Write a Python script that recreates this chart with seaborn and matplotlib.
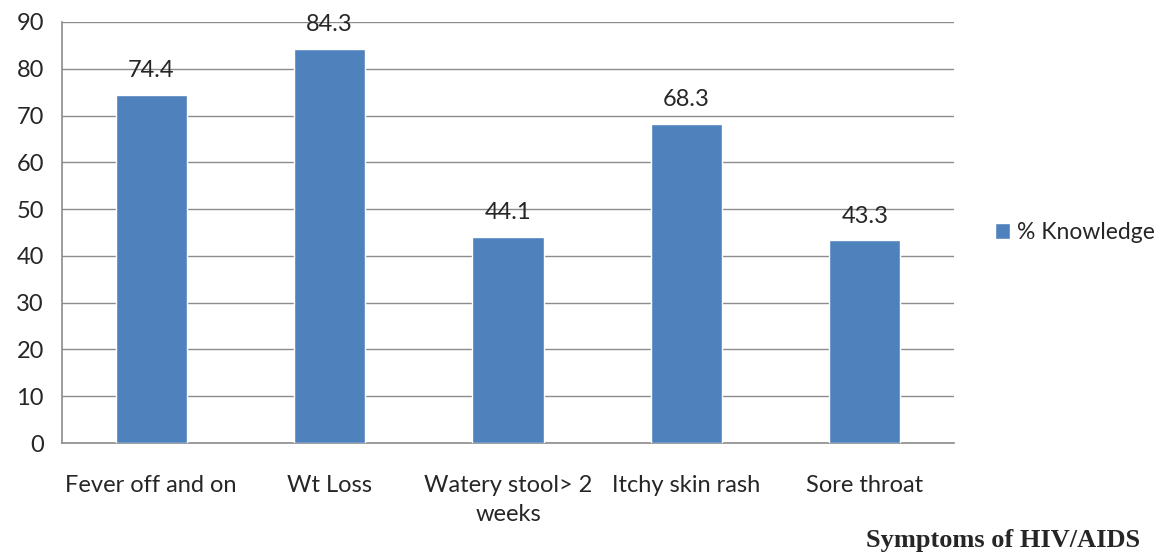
import pandas as pd
import matplotlib.pyplot as plt
import seaborn as sns

# chart data
symptoms = ["Fever off and on", "Wt Loss", "Watery stool> 2\nweeks", "Itchy skin rash", "Sore throat"]
knowledge = [74.4, 84.3, 44.1, 68.3, 43.3]
series_name = "% Knowledge"

df = pd.DataFrame({"Symptom": symptoms, "Value": knowledge})

sns.set_style("white")
plt.rcParams["font.family"] = ["Lato", "DejaVu Sans"]

fig = plt.figure(figsize=(11.66, 5.57), dpi=100)
ax = fig.add_axes([62 / 1166, 1 - 443 / 557, (954 - 62) / 1166, (443 - 22) / 557])

bar_color = "#4F81BD"
sns.barplot(data=df, x="Symptom", y="Value", color=bar_color, width=0.4,
            saturation=1, ax=ax, label=series_name, zorder=3)

ax.set_ylim(0, 90)
ax.set_xlim(-0.5, len(symptoms) - 0.5)
ax.set_yticks(range(0, 91, 10))
ax.yaxis.grid(True, color="#8c8c8c", linewidth=1, zorder=0)
ax.set_axisbelow(True)

for s in ["top", "right"]:
    ax.spines[s].set_visible(False)
for s in ["left", "bottom"]:
    ax.spines[s].set_color("#8c8c8c")
    ax.spines[s].set_linewidth(1.2)

# category labels centered, tick marks at boundaries
ax.set_xticks(range(len(symptoms)))
ax.set_xticklabels(symptoms, fontsize=17, linespacing=1.45)
ax.tick_params(axis="x", which="major", length=0, pad=23)
ax.set_xticks([i - 0.5 for i in range(len(symptoms) + 1)], minor=True)
ax.tick_params(axis="x", which="minor", length=8, width=1.2, color="#8c8c8c")
ax.tick_params(axis="y", length=8, width=1.2, color="#8c8c8c", labelsize=17, pad=5)
for t in ax.get_xticklabels():
    t.set_verticalalignment("top")

ax.set_xlabel("")
ax.set_ylabel("")

for i, v in enumerate(knowledge):
    ax.annotate(f"{v}", (i, v), xytext=(0, 10), textcoords="offset points",
                ha="center", va="bottom", fontsize=17)

ax.legend(loc="center left", bbox_to_anchor=(1.023, 0.5), frameon=False,
          fontsize=16.5, handlelength=0.65, handleheight=0.65, handletextpad=0.3)

fig.text(1140 / 1166, 1 - 541 / 557, "Symptoms of HIV/AIDS", ha="right", va="center",
         fontsize=19, fontweight="bold", family=["Liberation Serif", "DejaVu Serif"])

fig.savefig("out.png", dpi=100)
